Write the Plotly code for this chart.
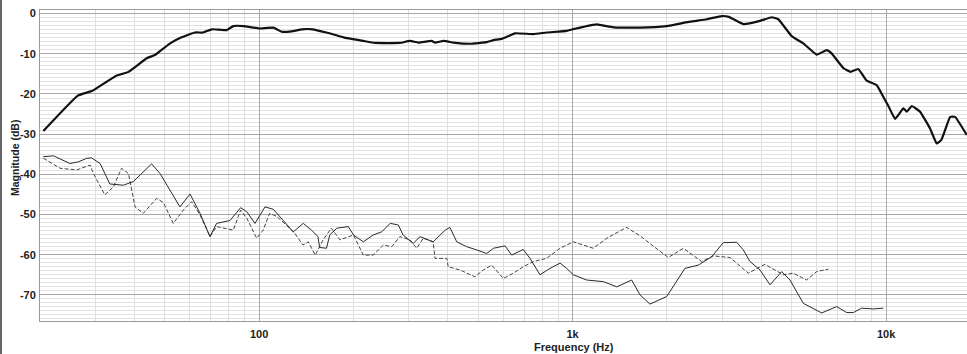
import plotly.graph_objects as go

# ---- data (frequency in Hz, magnitude in dB) ----
main_freq = [20.5, 26.4, 29.4, 34.9, 38.3, 43.8, 46.5, 52, 56.6, 62.4, 66.2, 70.6, 78.8, 82.7, 89.1,
             100, 111, 118, 125, 137, 148, 164, 186, 215, 234, 281, 303, 322, 355, 364, 387, 417,
             471, 532, 559, 594, 655, 750, 826, 957, 1000, 1082, 1193, 1349, 1641, 1996, 2367,
             2678, 2990, 3150, 3503, 3961, 4318, 4530, 4997, 5443, 6003, 6463, 6700, 7316, 7700,
             8150, 8668, 9332, 9796, 10170, 10680, 11350, 11640, 12070, 12830, 13810, 14490,
             14990, 16010, 16600, 18080]
main_db = [-29.2, -20.4, -19.2, -15.5, -14.5, -11.1, -10.3, -7.4, -5.9, -4.7, -4.7, -3.9, -4.1, -3.1, -3.1,
           -3.7, -3.5, -4.5, -4.5, -3.9, -3.9, -4.7, -5.9, -6.8, -7.3, -7.3, -6.8, -7.2, -6.8, -7.2, -6.8, -7.2,
           -7.5, -7.1, -6.6, -6.3, -4.9, -5.1, -4.7, -4.3, -3.9, -3.3, -2.7, -3.4, -3.5, -3.1, -2.0,
           -1.4, -0.6, -0.8, -2.6, -1.8, -0.9, -1.4, -5.6, -7.4, -10.2, -9.1, -9.9, -13.6, -14.5,
           -13.8, -16.7, -17.8, -20.7, -23.0, -26.2, -23.6, -24.4, -23.0, -24.4, -28.6, -32.3,
           -31.5, -25.7, -25.7, -30.2]

solid_freq = [20.5, 22.1, 24.9, 26.5, 28.2, 29.2, 31.1, 33.4, 36.9, 39.7, 45.4, 48.3, 55.9, 60.2, 64.8,
              69.7, 73.2, 80.7, 87.3, 91.3, 97, 104.4, 111, 119.5, 128.5, 138.3, 147, 154, 156, 164,
              168, 177, 192.5, 200, 215, 231, 246, 262, 278, 288, 310, 326, 359, 392, 406, 427, 459,
              494, 532, 559, 609, 639, 696, 731, 787, 847, 912, 957, 1005, 1109, 1253, 1383, 1543,
              1641, 1765, 1996, 2148, 2282, 2517, 2777, 3024, 3337, 3503, 3680, 3961, 4262, 4645,
              4936, 5443, 5858, 6230, 6956, 7487, 7858, 8358, 9103, 9796]
solid_db = [-35.6, -35.4, -37.3, -36.9, -36.0, -35.9, -37.3, -42.4, -42.7, -41.8, -37.4, -39.8, -48.1, -44.9, -49.7,
            -55.5, -52.2, -51.5, -48.3, -49.3, -52.2, -48.1, -48.7, -51.4, -54.3, -52.2, -53.9, -55.5, -58.2, -58.4,
            -55.1, -53.4, -53.0, -55.1, -56.8, -55.1, -54.3, -52.2, -52.6, -55.1, -57.2, -55.5, -56.8, -53.9, -53.2, -56.8, -58.0,
            -58.8, -59.7, -58.4, -57.8, -60.1, -58.7, -60.9, -65.0, -63.4, -62.1, -63.4, -65.0, -66.3, -66.7, -68.0, -66.3,
            -70.0, -72.3, -70.4, -66.7, -63.4, -62.6, -60.5, -57.0, -56.9, -58.8, -61.7, -63.8, -67.5, -64.2,
            -66.3, -72.1, -73.3, -74.5, -72.9, -74.4, -74.4, -73.3, -73.5, -73.3]

dashed_freq = [20.5, 23.2, 26.2, 28.9, 29.6, 32.2, 34.3, 36.4, 38.3, 40.2, 42.7, 47.1, 49.5, 53.2, 57.3,
               60.9, 64.8, 69.7, 73.2, 82.7, 87.3, 91.3, 98.2, 103, 108, 114, 122, 130, 138, 143.5,
               151, 160, 170, 181, 200, 215, 231, 249, 265, 281, 303, 318, 334, 359, 364, 397, 401,
               437, 488, 519, 552, 601, 647, 696, 750, 826, 912, 1005, 1164, 1285, 1487, 1641, 1790,
               2019, 2254, 2580, 2810, 3177, 3634, 4108, 4699, 5058, 5580, 6003, 6540]
dashed_db = [-36.0, -38.5, -38.9, -37.7, -39.8, -45.1, -43.1, -38.5, -39.8, -48.1, -49.7, -46.0, -47.0, -52.2, -48.9,
             -46.8, -50.1, -55.5, -53.0, -53.9, -48.9, -50.9, -55.9, -53.9, -49.7, -50.5, -52.6, -54.7, -57.6, -56.8,
             -60.1, -56.3, -53.4, -56.3, -55.1, -60.1, -60.1, -57.6, -58.0, -55.5, -56.3, -58.4, -55.9, -56.8, -60.9, -60.9, -63.0,
             -63.8, -65.5, -63.8, -62.6, -65.9, -64.6, -63.0, -61.7, -60.9, -58.4, -56.8, -58.4, -55.9, -53.2, -55.3, -57.6,
             -60.7, -58.4, -61.7, -60.3, -60.7, -64.6, -62.4, -65.0, -64.6, -66.3, -64.2, -63.6]

y_tickvals = [0, -10, -20, -30, -40, -50, -60, -70]
y_ticktext = ["0", "-10", "-20", "-30", "-40", "-50", "-60", "-70"]
x_tickvals = [100, 1000, 10000]
x_ticktext = ["100", "1k", "10k"]

W, H = 967, 354
ML, MR, MT, MB = 40, 0, 10, 33
PW, PH = W - ML - MR, H - MT - MB

FONT = "Liberation Sans, Arial, Helvetica, sans-serif"

fig = go.Figure()
fig.add_trace(go.Scatter(x=dashed_freq, y=dashed_db, mode="lines", hoverinfo="skip",
                         line=dict(color="#444444", width=1, dash="4px,2px")))
fig.add_trace(go.Scatter(x=solid_freq, y=solid_db, mode="lines", hoverinfo="skip",
                         line=dict(color="#2a2a2a", width=1)))
fig.add_trace(go.Scatter(x=main_freq, y=main_db, mode="lines", hoverinfo="skip",
                         line=dict(color="#111111", width=2.2, shape="spline", smoothing=0.3)))

fig.update_layout(
    width=W, height=H,
    margin=dict(l=ML, r=MR, t=MT, b=MB),
    paper_bgcolor="white", plot_bgcolor="white",
    showlegend=False,
    font=dict(family=FONT, color="#222222"),
    xaxis=dict(
        type="log", range=[1.30103, 4.258],
        tickmode="array", tickvals=x_tickvals, ticktext=x_ticktext,
        tickfont=dict(size=11, weight="bold", color="#222"),
        ticklabelstandoff=3,
        showgrid=True, gridcolor="#a8a8a8", gridwidth=1,
        minor=dict(tickmode="array",
                   tickvals=[m * d for d in (10, 100, 1000, 10000) for m in range(2, 10)],
                   showgrid=True, gridcolor="#dcdcdc", gridwidth=1, ticks=""),
        showline=True, linecolor="#9a9a9a", linewidth=1, mirror=True,
        ticks="", zeroline=False,
    ),
    yaxis=dict(
        range=[-76.5, 0.9],
        tickmode="array", tickvals=y_tickvals, ticktext=y_ticktext,
        tickfont=dict(size=11, weight="bold", color="#222"),
        ticklabelstandoff=1,
        showgrid=True, gridcolor="#a8a8a8", gridwidth=1,
        minor=dict(tick0=0, dtick=1, showgrid=True, gridcolor="#e2e2e2", gridwidth=1, ticks=""),
        showline=True, linecolor="#9a9a9a", linewidth=1,
        ticks="", zeroline=False,
    ),
    annotations=[
        dict(text="<b>Frequency (Hz)</b>", xref="paper", yref="paper",
             x=(574 - ML) / PW, y=-(347 - (MT + PH)) / PH, xanchor="center", yanchor="middle",
             showarrow=False, font=dict(size=11, color="#222", family=FONT)),
        dict(text="<b>Magnitude (dB)</b>", xref="paper", yref="paper",
             x=(15 - ML) / PW, y=((MT + PH) - 158) / PH, xanchor="center", yanchor="middle",
             textangle=-90, showarrow=False, font=dict(size=10.5, color="#222", family=FONT)),
    ],
    shapes=[
        dict(type="line", xref="paper", yref="paper",
             x0=(1 - ML) / PW, x1=(1 - ML) / PW, y0=-MB / PH, y1=(PH + MT) / PH,
             line=dict(color="#666666", width=2)),
    ],
)

fig.write_html("out.html", config={"displayModeBar": False},
               post_script="document.body.style.margin='0';")
